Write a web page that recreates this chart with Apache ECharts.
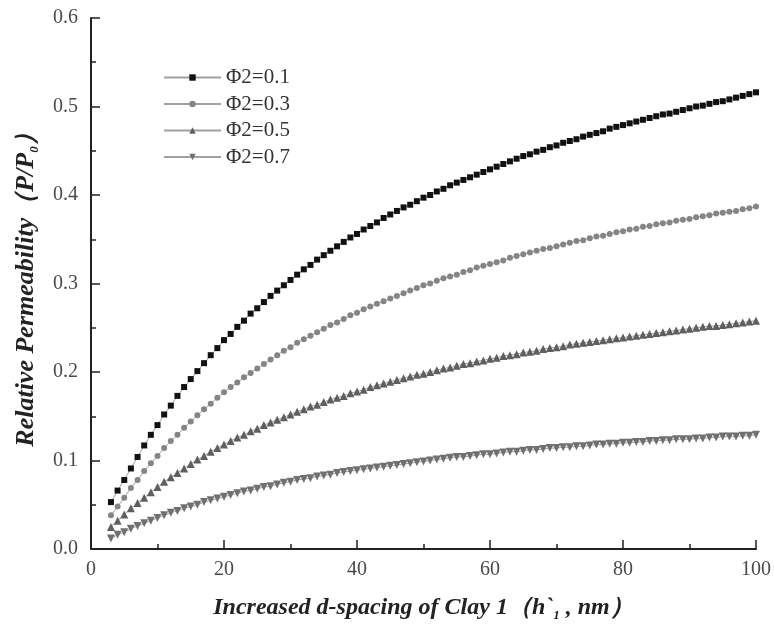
<!DOCTYPE html>
<html>
<head>
    <meta charset="utf-8">
    <script type="text/javascript" src="https://cdn.jsdelivr.net/npm/echarts@6/dist/echarts.min.js"></script>
</head>
<body style="margin:0;background:#fff;">
<div id="main" style="width:774px;height:628px;"></div>

<script type="text/javascript">
    // d-spacing (nm), one point per nm
    var xs = [
        3, 4, 5, 6, 7, 8, 9, 10, 11, 12,
        13, 14, 15, 16, 17, 18, 19, 20, 21, 22,
        23, 24, 25, 26, 27, 28, 29, 30, 31, 32,
        33, 34, 35, 36, 37, 38, 39, 40, 41, 42,
        43, 44, 45, 46, 47, 48, 49, 50, 51, 52,
        53, 54, 55, 56, 57, 58, 59, 60, 61, 62,
        63, 64, 65, 66, 67, 68, 69, 70, 71, 72,
        73, 74, 75, 76, 77, 78, 79, 80, 81, 82,
        83, 84, 85, 86, 87, 88, 89, 90, 91, 92,
        93, 94, 95, 96, 97, 98, 99, 100
    ];
    var phi01 = [
        0.053, 0.066, 0.078, 0.091, 0.104, 0.117, 0.129, 0.140, 0.152, 0.162,
        0.173, 0.183, 0.192, 0.201, 0.210, 0.219, 0.227, 0.236, 0.243, 0.251,
        0.258, 0.266, 0.272, 0.279, 0.286, 0.292, 0.298, 0.304, 0.310, 0.316,
        0.321, 0.327, 0.332, 0.337, 0.342, 0.347, 0.352, 0.356, 0.361, 0.365,
        0.369, 0.374, 0.378, 0.382, 0.386, 0.389, 0.393, 0.397, 0.400, 0.404,
        0.407, 0.411, 0.414, 0.417, 0.420, 0.423, 0.426, 0.429, 0.432, 0.435,
        0.438, 0.441, 0.444, 0.446, 0.449, 0.451, 0.454, 0.456, 0.459, 0.461,
        0.463, 0.466, 0.468, 0.470, 0.472, 0.475, 0.477, 0.479, 0.481, 0.483,
        0.485, 0.487, 0.489, 0.491, 0.492, 0.494, 0.496, 0.498, 0.500, 0.501,
        0.503, 0.505, 0.506, 0.508, 0.510, 0.512, 0.514, 0.516
    ];
    var phi03 = [
        0.038, 0.048, 0.058, 0.069, 0.078, 0.088, 0.097, 0.105, 0.114, 0.122,
        0.129, 0.137, 0.144, 0.151, 0.158, 0.164, 0.171, 0.177, 0.183, 0.188,
        0.194, 0.199, 0.204, 0.209, 0.214, 0.219, 0.224, 0.228, 0.233, 0.237,
        0.241, 0.245, 0.249, 0.253, 0.256, 0.260, 0.264, 0.267, 0.271, 0.274,
        0.277, 0.280, 0.283, 0.286, 0.289, 0.292, 0.295, 0.298, 0.300, 0.303,
        0.306, 0.308, 0.310, 0.313, 0.315, 0.318, 0.320, 0.322, 0.324, 0.326,
        0.329, 0.331, 0.333, 0.335, 0.337, 0.339, 0.340, 0.342, 0.344, 0.346,
        0.348, 0.349, 0.351, 0.353, 0.354, 0.356, 0.358, 0.359, 0.361, 0.362,
        0.364, 0.365, 0.367, 0.368, 0.369, 0.371, 0.372, 0.373, 0.375, 0.376,
        0.377, 0.379, 0.380, 0.381, 0.382, 0.384, 0.385, 0.387
    ];
    var phi05 = [
        0.025, 0.032, 0.039, 0.046, 0.052, 0.058, 0.064, 0.070, 0.076, 0.081,
        0.086, 0.091, 0.096, 0.101, 0.105, 0.110, 0.114, 0.118, 0.122, 0.126,
        0.129, 0.133, 0.136, 0.140, 0.143, 0.146, 0.149, 0.152, 0.155, 0.158,
        0.161, 0.163, 0.166, 0.169, 0.171, 0.173, 0.176, 0.178, 0.180, 0.183,
        0.185, 0.187, 0.189, 0.191, 0.193, 0.195, 0.197, 0.198, 0.200, 0.202,
        0.204, 0.205, 0.207, 0.209, 0.210, 0.212, 0.213, 0.215, 0.216, 0.218,
        0.219, 0.220, 0.222, 0.223, 0.224, 0.226, 0.227, 0.228, 0.229, 0.231,
        0.232, 0.233, 0.234, 0.235, 0.236, 0.237, 0.238, 0.239, 0.240, 0.241,
        0.242, 0.243, 0.244, 0.245, 0.246, 0.247, 0.248, 0.249, 0.250, 0.251,
        0.252, 0.252, 0.253, 0.254, 0.255, 0.256, 0.257, 0.258
    ];
    var phi07 = [
        0.012, 0.016, 0.019, 0.023, 0.026, 0.029, 0.032, 0.035, 0.038, 0.041,
        0.043, 0.046, 0.048, 0.050, 0.053, 0.055, 0.057, 0.059, 0.061, 0.063,
        0.065, 0.066, 0.068, 0.070, 0.071, 0.073, 0.075, 0.076, 0.078, 0.079,
        0.080, 0.082, 0.083, 0.084, 0.086, 0.087, 0.088, 0.089, 0.090, 0.091,
        0.092, 0.093, 0.094, 0.095, 0.096, 0.097, 0.098, 0.099, 0.100, 0.101,
        0.102, 0.103, 0.104, 0.104, 0.105, 0.106, 0.107, 0.107, 0.108, 0.109,
        0.110, 0.110, 0.111, 0.112, 0.112, 0.113, 0.114, 0.114, 0.115, 0.115,
        0.116, 0.116, 0.117, 0.118, 0.118, 0.119, 0.119, 0.120, 0.120, 0.121,
        0.121, 0.122, 0.122, 0.123, 0.123, 0.124, 0.124, 0.124, 0.125, 0.125,
        0.126, 0.126, 0.127, 0.127, 0.127, 0.128, 0.128, 0.129
    ];
    var seriesNames = ['Φ2=0.1', 'Φ2=0.3', 'Φ2=0.5', 'Φ2=0.7'];
    var xTicks = [0, 20, 40, 60, 80, 100];
    var yTicks = [0, 0.1, 0.2, 0.3, 0.4, 0.5, 0.6];

    var serif = 'Liberation Serif, Times New Roman, serif';

    function pairs(ys) {
        return xs.map(function (x, i) { return [x, ys[i]]; });
    }

    // marker look per curve
    var looks = [
        {symbol: 'rect', size: 6, rotate: 0, color: '#111111'},
        {symbol: 'circle', size: 6, rotate: 0, color: '#858585'},
        {symbol: 'triangle', size: 8, rotate: 0, color: '#5f5f5f'},
        {symbol: 'triangle', size: 8, rotate: 180, color: '#707070'}
    ];
    var allData = [phi01, phi03, phi05, phi07];

    var series = allData.map(function (d, i) {
        return {
            name: seriesNames[i],
            type: 'line',
            data: pairs(d),
            symbol: looks[i].symbol,
            symbolSize: looks[i].size,
            symbolRotate: looks[i].rotate,
            showAllSymbol: true,
            itemStyle: {color: looks[i].color},
            lineStyle: {color: '#a0a0a0', width: 1},
            animation: false
        };
    });

    var nameRich = function (big) {
        return {
            t: {fontFamily: serif, fontStyle: 'italic', fontWeight: 'bold', fontSize: big, color: '#222'},
            s: {fontFamily: serif, fontStyle: 'italic', fontWeight: 'bold', fontSize: 13, color: '#222', padding: [16, 0, 0, 0]}
        };
    };

    var myChart = echarts.init(document.getElementById('main'));
    var option = {
        backgroundColor: '#fff',
        grid: {left: 91, right: 14, top: 18, bottom: 79},
        legend: {
            orient: 'vertical',
            left: 158,
            top: 62,
            itemWidth: 57,
            itemHeight: 8,
            itemGap: 5.5,
            data: seriesNames,
            textStyle: {fontFamily: serif, fontSize: 21, color: '#333'}
        },
        xAxis: {
            type: 'value',
            min: xTicks[0],
            max: xTicks[xTicks.length - 1],
            interval: 20,
            name: '{t|Increased d-spacing of Clay 1（h`}{s|1}{t| , nm）}',
            nameLocation: 'middle',
            nameGap: 44,
            nameTextStyle: {rich: nameRich(24)},
            axisLine: {lineStyle: {color: '#222', width: 2}},
            axisTick: {inside: true, length: 9, lineStyle: {color: '#222', width: 1.5}},
            minorTick: {show: true, splitNumber: 2, length: 5, lineStyle: {color: '#222', width: 1.5}},
            axisLabel: {fontFamily: serif, fontSize: 20, color: '#4a4a4a', margin: 11},
            splitLine: {show: false}
        },
        yAxis: {
            type: 'value',
            min: yTicks[0],
            max: yTicks[yTicks.length - 1],
            interval: 0.1,
            name: '{t|Relative Permeability（P/P}{s|0}{t|）}',
            nameLocation: 'middle',
            nameGap: 50,
            nameTextStyle: {rich: nameRich(26)},
            axisLine: {show: true, lineStyle: {color: '#222', width: 2}},
            axisTick: {show: true, inside: true, length: 9, lineStyle: {color: '#222', width: 1.5}},
            minorTick: {show: true, splitNumber: 2, length: 5, lineStyle: {color: '#222', width: 1.5}},
            axisLabel: {
                fontFamily: serif, fontSize: 20, color: '#4a4a4a', margin: 13,
                formatter: function (v) { return v.toFixed(1); }
            },
            splitLine: {show: false}
        },
        series: series
    };
    myChart.setOption(option);
</script>
</body>
</html>
